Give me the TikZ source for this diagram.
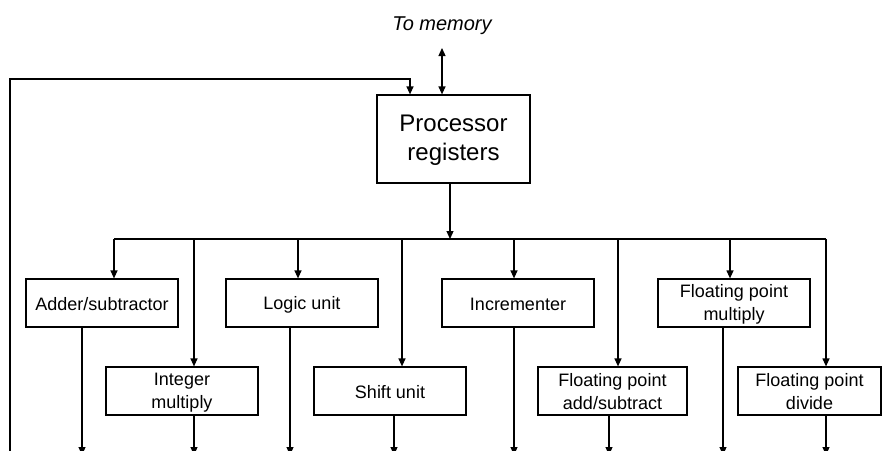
\documentclass[tikz,border=0pt]{standalone}
\usepackage{fontspec}
\setmainfont{Liberation Sans}
\usetikzlibrary{arrows.meta}
% invisible struts that fix the line height and depth inside the boxes
\newcommand\unitstrut{\rule[-2pt]{0pt}{18pt}}
\newcommand\regstrut{\rule[-4pt]{0pt}{22pt}}
\begin{document}
\begin{tikzpicture}[x=1pt,y=-1pt,
  line width=1.2pt,
  unit/.style={draw,rectangle,minimum width=152pt,minimum height=48pt,inner sep=0pt,
    align=center,font=\fontsize{18}{22.5}\selectfont},
  arr/.style={-{Triangle[length=8pt,width=7pt]}},
  dbl/.style={{Triangle[length=8pt,width=7pt]}-{Triangle[length=8pt,width=7pt]}}]
\useasboundingbox (0,0) rectangle (882,450);
\clip (0,0) rectangle (882,450);

% register file and memory link
\node[draw,rectangle,minimum width=153pt,minimum height=88pt,inner sep=0pt,align=center,
  font=\fontsize{24}{29}\selectfont] (proc) at (453.5,139) {Processor\regstrut\\registers\regstrut};
\node[font=\fontsize{20}{24}\selectfont\itshape] (mem) at (442,25.5) {To memory};
\coordinate (memend) at (442,48);
\draw[dbl] (memend) -- (memend |- proc.north);

% functional units
\node[unit] (add)  at (102,303)  {Adder/subtractor\unitstrut};
\node[unit] (imul) at (182,391)  {Integer\unitstrut\\multiply\unitstrut};
\node[unit] (logic) at (302,303) {Logic unit\unitstrut};
\node[unit] (shift) at (390,391) {Shift unit\unitstrut};
\node[unit] (inc)  at (518,303)  {Incrementer\unitstrut};
\node[unit,minimum width=149pt] (fadd) at (612.5,391) {Floating point\unitstrut\\add/subtract\unitstrut};
\node[unit] (fmul) at (734,303)  {Floating point\unitstrut\\multiply\unitstrut};
\node[unit,minimum width=143pt] (fdiv) at (809.5,391) {Floating point\unitstrut\\divide\unitstrut};

% distribution bus taps
\coordinate (t1) at (114,239);
\coordinate (t2) at (194,239);
\coordinate (t3) at (298,239);
\coordinate (t4) at (402,239);
\coordinate (t5) at (514,239);
\coordinate (t6) at (618,239);
\coordinate (t7) at (730,239);
\coordinate (t8) at (826,239);
\coordinate (tp) at (450,239);

\draw[arr] (proc.south -| tp) -- (tp);
\draw (t1) -- (t8);
\draw[arr] (t1) -- (t1 |- add.north);
\draw[arr] (t2) -- (t2 |- imul.north);
\draw[arr] (t3) -- (t3 |- logic.north);
\draw[arr] (t4) -- (t4 |- shift.north);
\draw[arr] (t5) -- (t5 |- inc.north);
\draw[arr] (t6) -- (t6 |- fadd.north);
\draw[arr] (t7) -- (t7 |- fmul.north);
\draw[arr] (t8) -- (t8 |- fdiv.north);

% result outputs
\coordinate (o1) at (82,455);
\coordinate (o2) at (194,455);
\coordinate (o3) at (290,455);
\coordinate (o4) at (394,455);
\coordinate (o5) at (514,455);
\coordinate (o6) at (609,455);
\coordinate (o7) at (723,455);
\coordinate (o8) at (826,455);
\draw[arr] (o1 |- add.south) -- (o1);
\draw[arr] (o2 |- imul.south) -- (o2);
\draw[arr] (o3 |- logic.south) -- (o3);
\draw[arr] (o4 |- shift.south) -- (o4);
\draw[arr] (o5 |- inc.south) -- (o5);
\draw[arr] (o6 |- fadd.south) -- (o6);
\draw[arr] (o7 |- fmul.south) -- (o7);
\draw[arr] (o8 |- fdiv.south) -- (o8);

% result feedback to the registers
\coordinate (fbin) at (10,460);
\coordinate (fbtop) at (410,79);
\draw[arr] (fbin) |- (fbtop) -- (fbtop |- proc.north);
\end{tikzpicture}
\end{document}
